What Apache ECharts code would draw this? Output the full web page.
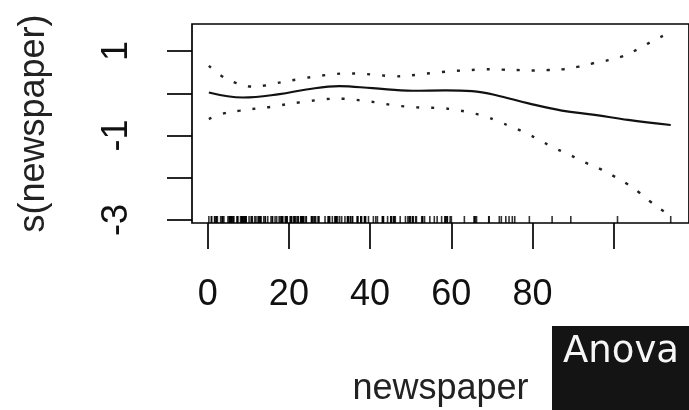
<!DOCTYPE html>
<html>
<head>
<meta charset="utf-8">
<script src="https://cdn.jsdelivr.net/npm/echarts@6/dist/echarts.min.js"></script>
<style>
html,body{margin:0;padding:0;background:#fff;}
#chart{width:689px;height:410px;}
</style>
</head>
<body>
<div id="chart"></div>
<script>
// Smooth term s(newspaper)
const fitX = [0.3, 8.7, 17.7, 24.3, 32.4, 40.6, 50.4, 58.6, 65.1, 70.8, 79, 87.2, 95.3, 103.5, 114];
const fitY = [0.02, -0.10, -0.02, 0.09, 0.17, 0.12, 0.06, 0.07, 0.05, -0.04, -0.24, -0.41, -0.51, -0.63, -0.75];
// Upper confidence band
const upperX = [0.3, 3.4, 7.1, 10.8, 14.5, 18.5, 22.2, 25.9, 30, 34, 38.1, 42.2, 45.9, 49.6, 53.3, 57.4, 61, 64.7, 68.4, 72.5, 76.1, 79.8, 83.9, 87.6, 91.3, 94.9, 99, 102.3, 106, 109.2, 112.9, 114];
const upperY = [0.65, 0.41, 0.24, 0.16, 0.19, 0.27, 0.33, 0.39, 0.44, 0.47, 0.46, 0.43, 0.40, 0.42, 0.46, 0.50, 0.53, 0.55, 0.57, 0.56, 0.55, 0.54, 0.55, 0.57, 0.63, 0.71, 0.79, 0.88, 1.05, 1.22, 1.40, 1.46];
// Lower confidence band
const lowerX = [0.3, 4.2, 7.9, 12, 15.7, 19.4, 23, 27.1, 30.8, 34, 37.7, 41.8, 45.5, 49.6, 53.3, 57.4, 61, 64.7, 68.4, 71.6, 75.3, 79, 82.3, 85.5, 89.2, 92.5, 96.2, 99.4, 102.7, 106, 108.8, 112.1, 114];
const lowerY = [-0.61, -0.47, -0.41, -0.36, -0.32, -0.26, -0.21, -0.16, -0.13, -0.13, -0.17, -0.22, -0.28, -0.32, -0.34, -0.35, -0.39, -0.46, -0.55, -0.67, -0.81, -0.97, -1.14, -1.30, -1.46, -1.62, -1.77, -1.93, -2.11, -2.33, -2.55, -2.78, -2.90];
// Rug: observed newspaper values
const rugValues = [69.2,45.1,69.3,58.5,58.4,75,23.5,11.6,1,21.2,24.2,4,65.9,7.2,46,52.9,114,55.8,18.3,19.1,53.4,23.5,49.6,26.2,18.3,19.5,12.6,22.9,22.9,40.8,43.2,38.6,30,0.3,7.4,8.5,5,45.7,35.1,32,31.6,38.7,1.8,26.4,43.3,31.5,35.7,18.5,49.9,36.8,34.6,3.6,39.6,58.7,15.9,60,41.4,16.6,37.7,9.3,21.4,54.7,27.3,8.4,28.9,0.9,2.2,10.2,11,27.2,38.7,31.7,19.3,31.3,13.1,89.4,20.7,14.2,9.4,23.1,22.3,36.9,32.5,35.6,33.8,65.7,16,63.2,73.4,51.4,9.3,33,59,72.3,10.9,52.9,5.9,22,51.2,45.9,49.8,100.9,21.4,17.9,5.3,59,29.7,23.2,25.6,5.5,56.5,23.2,2.4,10.7,34.5,52.7,25.6,14.8,79.2,22.3,46.2,50.4,15.6,12.4,74.2,25.9,50.6,9.2,3.2,43.1,8.7,43,2.1,45.1,65.6,8.5,9.3,59.7,20.5,1.7,12.9,75.6,37.9,34.4,38.9,9,8.7,44.3,11.9,20.6,37,48.7,14.2,37.7,9.5,5.7,50.5,24.3,45.2,34.6,30.7,49.3,25.6,7.4,5.4,84.8,21.6,19.4,57.6,6.4,18.4,47.4,17,12.8,13.1,41.8,20.3,35.2,23.7,17.6,8.3,27.4,29.7,71.8,30,19.6,26.6,18.2,3.7,23.4,5.8,6,31.6,3.6,6,13.8,8.1,6.4,66.2,8.7];
// Axis ticks and labels
const xTicks = [0, 20, 40, 60, 80, 100];
const xTickLabels = [0, 20, 40, 60, 80];
const yTicks = [-3, -2, -1, 0, 1];
const yTickLabels = [-3, -1, 1];
const xName = 'newspaper';
const yName = 's(newspaper)';
const overlayText = 'Anova';

const X_MIN = -3.85, X_MAX = 118.5, Y_MIN = -3.07, Y_MAX = 1.64;

const zip = (xs, ys) => xs.map((x, i) => [x, ys[i]]);

const chart = echarts.init(document.getElementById('chart'), null, {renderer: 'canvas'});
const fontFam = '"Liberation Sans", Arial, sans-serif';

chart.setOption({
  animation: false,
  backgroundColor: '#ffffff',
  grid: {
    left: 192, top: 24, width: 499, height: 199,
    show: true, borderColor: '#000', borderWidth: 1.7, backgroundColor: 'transparent'
  },
  xAxis: {
    type: 'value', min: X_MIN, max: X_MAX,
    name: xName, nameLocation: 'middle', nameGap: 148,
    nameTextStyle: {fontFamily: fontFam, fontSize: 36, color: '#222'},
    axisLine: {show: false, onZero: false},
    splitLine: {show: false},
    axisTick: {show: true, length: 26, customValues: xTicks, lineStyle: {color: '#000', width: 1.7}},
    axisLabel: {show: true, customValues: xTickLabels, margin: 54, fontFamily: fontFam, fontSize: 36, color: '#111'}
  },
  yAxis: {
    type: 'value', min: Y_MIN, max: Y_MAX,
    name: yName, nameLocation: 'middle', nameGap: 140,
    nameTextStyle: {fontFamily: fontFam, fontSize: 36, color: '#222'},
    axisLine: {show: false, onZero: false},
    splitLine: {show: false},
    axisTick: {show: true, length: 25, customValues: yTicks, lineStyle: {color: '#000', width: 1.7}},
    axisLabel: {show: true, customValues: yTickLabels, rotate: 90, margin: 57, fontFamily: fontFam, fontSize: 36, color: '#111'}
  },
  series: [
    {
      type: 'line', data: zip(fitX, fitY), smooth: 0.4, showSymbol: false, symbol: 'none',
      lineStyle: {color: '#111', width: 2.2}, silent: true
    },
    {
      type: 'line', data: zip(upperX, upperY), smooth: 0.4, showSymbol: false, symbol: 'none',
      lineStyle: {color: '#222', width: 2.4, type: [3, 12]}, silent: true
    },
    {
      type: 'line', data: zip(lowerX, lowerY), smooth: 0.4, showSymbol: false, symbol: 'none',
      lineStyle: {color: '#222', width: 2.4, type: [3, 12]}, silent: true
    },
    {
      type: 'scatter', data: rugValues.map(v => [v, Y_MIN]),
      symbol: 'rect', symbolSize: [1.6, 7], symbolOffset: [0, -3.5],
      itemStyle: {color: '#000'}, silent: true, clip: false
    }
  ],
  graphic: [
    {
      type: 'group', left: 552, top: 326,
      children: [
        {type: 'rect', shape: {x: 0, y: 0, width: 140, height: 90}, style: {fill: '#141414'}},
        {type: 'text', x: 11, y: 8, style: {text: overlayText, fill: '#f6f6f6', font: '37px "DejaVu Sans", sans-serif', textVerticalAlign: 'top'}}
      ]
    }
  ]
});
</script>
</body>
</html>
